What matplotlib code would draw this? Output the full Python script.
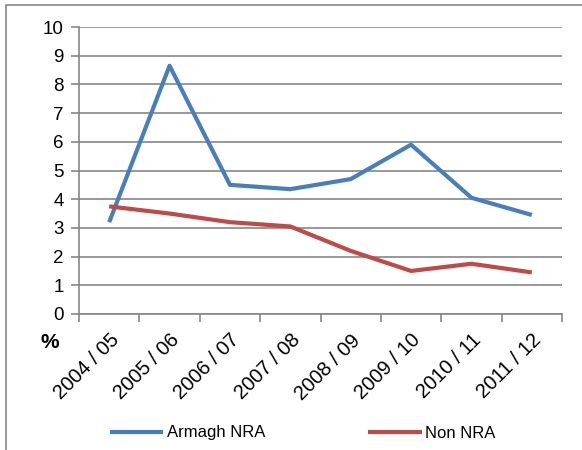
import numpy as np
import matplotlib.pyplot as plt
from matplotlib.patches import Rectangle

plt.rcParams['font.family'] = ['Liberation Sans', 'DejaVu Sans']

years = ["2004 / 05", "2005 / 06", "2006 / 07", "2007 / 08",
         "2008 / 09", "2009 / 10", "2010 / 11", "2011 / 12"]
armagh = [3.2, 8.65, 4.5, 4.35, 4.7, 5.9, 4.05, 3.45]
non_nra = [3.75, 3.5, 3.2, 3.05, 2.2, 1.5, 1.75, 1.45]

fig = plt.figure(figsize=(5.82, 4.5), dpi=100)
ax = fig.add_axes([79/582, 1 - 314/450, (562-79)/582, (314-27)/450])

# outer chart frame
fig.patches.append(Rectangle((6/582, -0.1), 1.2, 1 - 5/450 + 0.1,
                             transform=fig.transFigure, fill=False,
                             edgecolor='#868686', linewidth=1.2))

x = np.arange(len(years))
ax.plot(x, armagh, color='#4A7EBB', lw=3, label='Armagh NRA', solid_capstyle='butt')
ax.plot(x, non_nra, color='#BE4B48', lw=3, label='Non NRA', solid_capstyle='butt')

ax.set_xlim(-0.5, len(years) - 0.5)
ax.set_ylim(0, 10)
ax.set_yticks(range(0, 11))
ax.yaxis.grid(True, color='#868686', lw=1.2)
ax.set_axisbelow(True)

ax.set_xticks(np.arange(-0.5, len(years)), minor=False)
ax.set_xticklabels([])
ax.set_xticks(x, minor=True)
ax.set_xticklabels(years, minor=True, rotation=45, ha='right', rotation_mode='anchor', fontsize=14.5)
ax.tick_params(axis='x', which='minor', length=0, pad=12)
ax.tick_params(axis='x', which='major', length=6, color='#868686', width=1.2)
ax.tick_params(axis='y', length=6, color='#868686', width=1.2, labelsize=13.5, pad=5)

for s in ['top', 'right']:
    ax.spines[s].set_visible(False)
for s in ['left', 'bottom']:
    ax.spines[s].set_color('#868686')
    ax.spines[s].set_linewidth(1.2)

fig.text(50/582, 1 - 343/450, '%', fontsize=15, fontweight='bold', ha='center', va='center')

fig.legend(loc='center', bbox_to_anchor=(0.52, 1 - 433/450), ncol=2, frameon=False,
           fontsize=12, handlelength=3.2, handletextpad=0.2, columnspacing=6.2)

fig.savefig('out.png', dpi=100)
